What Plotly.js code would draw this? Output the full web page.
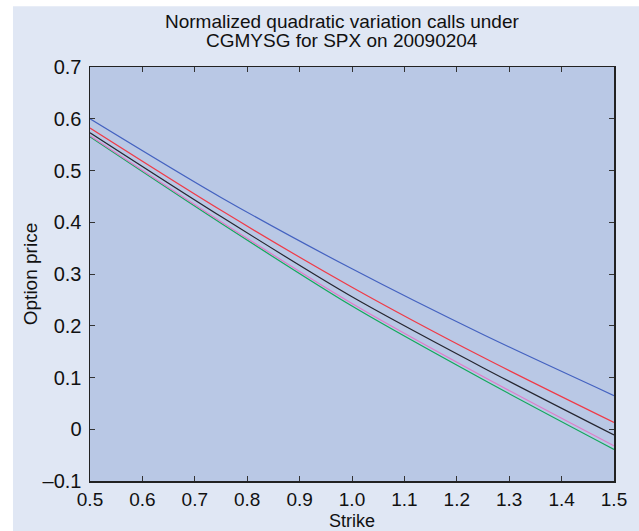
<!DOCTYPE html>
<html><head><meta charset="utf-8">
<script src="https://cdn.plot.ly/plotly-3.0.1.min.js"></script>
<style>body{margin:0;padding:0;background:#fff}</style>
</head><body>
<div id="chart" style="width:639px;height:531px"></div>
<script>
const strike = [0.5, 0.75, 1.0, 1.25, 1.5];
const blueSeries    = [0.600, 0.448, 0.310, 0.183, 0.065];
const redSeries     = [0.582, 0.423, 0.2745, 0.139, 0.013];
const blackSeries   = [0.573, 0.411, 0.256, 0.119, -0.011];
const magentaSeries = [0.567, 0.401, 0.243, 0.102, -0.032];
const greenSeries   = [0.565, 0.398, 0.238, 0.096, -0.039];
const yTickVals = [-0.1, 0, 0.1, 0.2, 0.3, 0.4, 0.5, 0.6, 0.7];
const yTickText = ['\u20130.1', '0', '0.1', '0.2', '0.3', '0.4', '0.5', '0.6', '0.7'];
const xTickVals = [0.5, 0.6, 0.7, 0.8, 0.9, 1.0, 1.1, 1.2, 1.3, 1.4, 1.5];
const titleLines = ['Normalized quadratic variation calls under', 'CGMYSG for SPX on 20090204'];
const xTitle = 'Strike';

function tr(y, color) {
  return {x: strike, y: y, mode: 'lines', type: 'scatter',
    line: {color: color, width: 1.2, shape: 'spline', smoothing: 0.8},
    hoverinfo: 'skip', showlegend: false};
}
const data = [
  tr(greenSeries, '#12a85c'),
  tr(magentaSeries, '#e07ac8'),
  tr(blackSeries, '#262630'),
  tr(redSeries, '#f03a46'),
  tr(blueSeries, '#4462c0')
];
const fam = 'Liberation Sans, Arial, sans-serif';
const layout = {
  width: 639, height: 531,
  margin: {l: 90, r: 25, t: 67, b: 50},
  paper_bgcolor: '#ffffff',
  plot_bgcolor: 'rgba(0,0,0,0)',
  font: {family: fam, color: '#111', size: 19},
  xaxis: {range: [0.5, 1.5], tickvals: xTickVals, tickformat: '.1f',
    ticks: 'inside', ticklen: 5, tickcolor: '#333', showline: true, linecolor: '#222', linewidth: 1.5,
    mirror: 'ticks', showgrid: false, zeroline: false, tickfont: {size: 19}, ticklabelstandoff: 1},
  yaxis: {range: [-0.1, 0.7], tickvals: yTickVals, ticktext: yTickText,
    ticks: 'inside', ticklen: 5, tickcolor: '#333', showline: true, linecolor: '#222', linewidth: 1.5,
    mirror: 'ticks', showgrid: false, zeroline: false, ticklabelstandoff: 3,
    title: {text: 'Option price', standoff: 0, font: {size: 19}}, tickfont: {size: 20}},
  annotations: [
    {text: titleLines[0], xref: 'paper', yref: 'paper', x: 0.48, y: 1.1087, xanchor: 'center', yanchor: 'middle',
     showarrow: false, font: {family: fam, size: 19, color: '#111'}},
    {text: titleLines[1], xref: 'paper', yref: 'paper', x: 0.48, y: 1.064, xanchor: 'center', yanchor: 'middle',
     showarrow: false, font: {family: fam, size: 19, color: '#111'}},
    {text: xTitle, xref: 'paper', yref: 'paper', x: 0.5, y: -0.096, xanchor: 'center', yanchor: 'middle',
     showarrow: false, borderpad: 0, font: {family: fam, size: 18, color: '#111'}}
  ],
  shapes: [
    {type: 'rect', xref: 'paper', yref: 'paper', x0: -0.147, x1: 1.06, y0: -0.13, y1: 1.147,
     fillcolor: '#e0e7f4', line: {width: 0}, layer: 'below'},
    {type: 'rect', xref: 'paper', yref: 'paper', x0: 0, x1: 1, y0: 0, y1: 1,
     fillcolor: '#b9c8e5', line: {width: 0}, layer: 'below'}
  ]
};
Plotly.newPlot('chart', data, layout, {displayModeBar: false, staticPlot: true});
</script>
</body></html>
